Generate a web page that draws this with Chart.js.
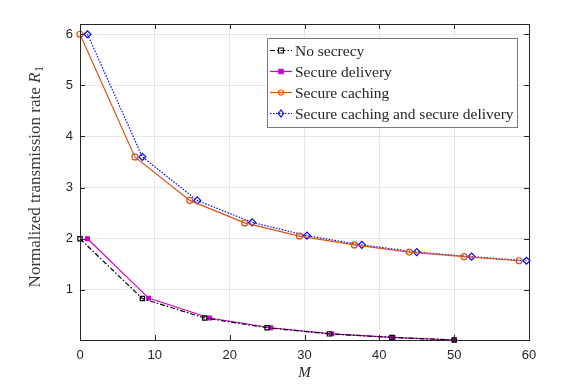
<!DOCTYPE html>
<html><head><meta charset="utf-8">
<script src="https://cdn.jsdelivr.net/npm/chart.js@4.4.1/dist/chart.umd.min.js"></script>
<style>html,body{margin:0;padding:0;background:#fff}#wrap{width:581px;height:388px}</style>
</head><body><div id="wrap"><canvas id="c" width="581" height="388"></canvas></div>
<script>
const seriesNames = ["No secrecy","Secure delivery","Secure caching","Secure caching and secure delivery"];
const mNoSecrecy = [0, 8.333, 16.667, 25, 33.333, 41.667, 50];
const rNoSecrecy = [2, 0.83, 0.45, 0.26, 0.14, 0.07, 0.02];
const mSecDelivery = [1, 9.167, 17.333, 25.5, 33.667, 41.833, 50];
const rSecDelivery = [2, 0.84, 0.45, 0.26, 0.14, 0.07, 0.02];
const mSecCaching = [0, 7.333, 14.667, 22, 29.333, 36.667, 44, 51.333, 58.667];
const rSecCaching = [6, 3.6, 2.75, 2.31, 2.05, 1.88, 1.74, 1.65, 1.57];
const mSecBoth = [1, 8.333, 15.667, 23, 30.333, 37.667, 45, 52.333, 59.667];
const rSecBoth = [6, 3.6, 2.75, 2.32, 2.06, 1.88, 1.74, 1.65, 1.57];
const xTicks = [0, 10, 20, 30, 40, 50, 60];
const yTicks = [1, 2, 3, 4, 5, 6];

const pts = (xs, ys) => xs.map((x, i) => ({x, y: ys[i]}));
const AX = '#262626';
const styles = [
  {color:'#000000', dash:[5,2,1.5,2], marker:'rect', fill:'rgba(0,0,0,0)', r:3},
  {color:'#cc00cc', dash:[], marker:'rect', fill:'#cc00cc', r:2.6},
  {color:'#d95319', dash:[], marker:'circle', fill:'rgba(0,0,0,0)', r:3},
  {color:'#0000ff', dash:[1.5,1.5], marker:'rectRot', fill:'rgba(0,0,0,0)', r:3.5}
];
const dataSets = [pts(mNoSecrecy,rNoSecrecy), pts(mSecDelivery,rSecDelivery), pts(mSecCaching,rSecCaching), pts(mSecBoth,rSecBoth)];

const decor = {
  id:'decor',
  afterDraw(chart){
    const ctx = chart.ctx, a = chart.chartArea, xs = chart.scales.x, ys = chart.scales.y;
    ctx.save();
    ctx.strokeStyle = AX; ctx.lineWidth = 1; ctx.setLineDash([]);
    ctx.strokeRect(Math.round(a.left)+0.5, Math.round(a.top)+0.5, Math.round(a.right-a.left), Math.round(a.bottom-a.top));
    ctx.beginPath();
    xTicks.forEach(v => { const p = Math.round(xs.getPixelForValue(v))+0.5;
      ctx.moveTo(p, a.bottom); ctx.lineTo(p, a.bottom-5); ctx.moveTo(p, a.top); ctx.lineTo(p, a.top+5); });
    yTicks.forEach(v => { const p = Math.round(ys.getPixelForValue(v))+0.5;
      ctx.moveTo(a.left, p); ctx.lineTo(a.left+5, p); ctx.moveTo(a.right, p); ctx.lineTo(a.right-5, p); });
    ctx.stroke();
    ctx.fillStyle = AX; ctx.textBaseline = 'alphabetic';
    ctx.font = 'italic 15px "Liberation Serif"'; ctx.textAlign = 'center';
    ctx.fillText('M', (a.left+a.right)/2, 377);
    ctx.save();
    ctx.fillStyle = '#3a3a3a';
    ctx.translate(40, 177);
    ctx.rotate(-Math.PI/2);
    const t1 = 'Normalized transmission rate ';
    const F = 17;
    ctx.font = F + 'px "Liberation Serif"';
    const w1 = ctx.measureText(t1).width;
    ctx.font = 'italic ' + F + 'px "Liberation Serif"';
    const w2 = ctx.measureText('R').width;
    ctx.font = '12px "Liberation Serif"';
    const w3 = ctx.measureText('1').width;
    let x0 = -(w1+w2+w3)/2;
    ctx.textAlign = 'left';
    ctx.font = F + 'px "Liberation Serif"'; ctx.fillText(t1, x0, 0);
    ctx.font = 'italic ' + F + 'px "Liberation Serif"'; ctx.fillText('R', x0+w1, 0);
    ctx.font = '12px "Liberation Serif"'; ctx.fillText('1', x0+w1+w2+0.5, 3);
    ctx.restore();
    const lx = 267, ly = 38, lw = 250, lh = 89;
    ctx.fillStyle = '#fff'; ctx.fillRect(lx, ly, lw, lh);
    ctx.strokeStyle = '#7a7a7a'; ctx.lineWidth = 1;
    ctx.strokeRect(lx+0.5, ly+0.5, lw, lh);
    seriesNames.forEach((name, i) => {
      const s = styles[i], cy = 50.5 + i*21;
      ctx.strokeStyle = s.color; ctx.lineWidth = 1.2; ctx.setLineDash(s.dash);
      ctx.beginPath(); ctx.moveTo(270, cy); ctx.lineTo(292, cy); ctx.stroke();
      ctx.setLineDash([]);
      drawMarker(ctx, s, 281, cy);
      ctx.fillStyle = AX; ctx.font = '15.5px "Liberation Serif"'; ctx.textAlign = 'left'; ctx.textBaseline = 'middle';
      ctx.fillText(name, 295, cy+1);
    });
    ctx.restore();
  }
};
function drawMarker(ctx, s, x, y){
  ctx.save(); ctx.lineWidth = 1.1; ctx.strokeStyle = s.color; ctx.fillStyle = s.fill;
  ctx.beginPath();
  const r = s.r * 0.85;
  if (s.marker === 'rect') ctx.rect(x-r, y-r, 2*r, 2*r);
  else if (s.marker === 'circle') ctx.arc(x, y, r, 0, Math.PI*2);
  else { ctx.moveTo(x, y-r*1.2); ctx.lineTo(x+r*0.9, y); ctx.lineTo(x, y+r*1.2); ctx.lineTo(x-r*0.9, y); ctx.closePath(); }
  ctx.fill(); ctx.stroke(); ctx.restore();
}

new Chart(document.getElementById('c'), {
  type:'line',
  data:{ datasets: dataSets.map((d, i) => ({
    label: seriesNames[i], data: d,
    borderColor: styles[i].color, borderWidth: 1.2, borderDash: styles[i].dash,
    pointStyle: styles[i].marker, pointRadius: styles[i].r, pointBorderWidth: 1.2,
    pointBorderColor: styles[i].color, pointBackgroundColor: styles[i].fill,
    fill:false, tension:0, clip:false
  }))},
  options:{
    responsive:false, animation:false, devicePixelRatio:1,
    layout:{padding:{top:24, right:52, left:0, bottom:0}},
    plugins:{legend:{display:false}, tooltip:{enabled:false}},
    scales:{
      x:{ type:'linear', min:0, max:60,
        afterBuildTicks: s => { s.ticks = xTicks.map(v => ({value:v})); },
        afterFit: s => { s.height = 48; },
        grid:{color:'#e6e6e6', drawTicks:false}, border:{display:false},
        ticks:{color:AX, font:{family:'"Liberation Sans"', size:13}, padding:8, maxRotation:0}
      },
      y:{ type:'linear', min:0.02, max:6.2,
        afterBuildTicks: s => { s.ticks = yTicks.map(v => ({value:v})); },
        afterFit: s => { s.width = 80; },
        grid:{color:'#e6e6e6', drawTicks:false}, border:{display:false},
        ticks:{color:AX, font:{family:'"Liberation Sans"', size:13}, padding:7}
      }
    }
  },
  plugins:[decor]
});
</script></body></html>
